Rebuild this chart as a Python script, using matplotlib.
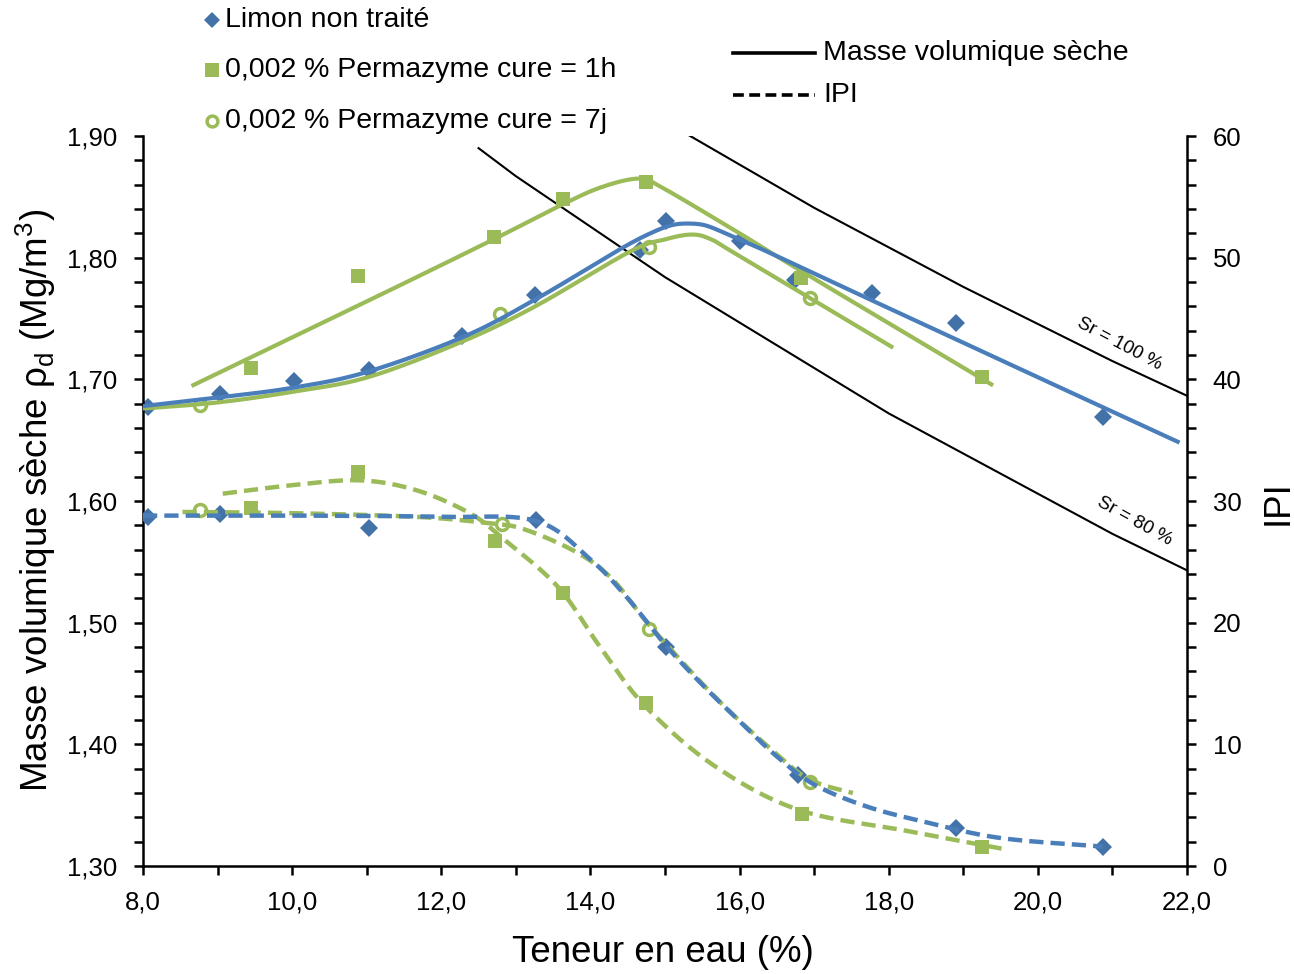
import numpy as np
import matplotlib
matplotlib.use("Agg")
import matplotlib.pyplot as plt
from matplotlib.lines import Line2D
from matplotlib.ticker import MultipleLocator, FuncFormatter

plt.rcParams["font.family"] = ["Liberation Sans", "DejaVu Sans"]

BLUE = "#4A7EBB"
BLUE_MK = "#4372A9"
GREEN = "#9BBB59"

# --- measured points: dry density (Mg/m3) ---
limon_w   = [8.07, 9.03, 10.03, 11.03, 12.28, 13.26, 14.67, 15.01, 16.0, 16.74, 17.78, 18.9, 20.87]
limon_rho = [1.677, 1.688, 1.699, 1.708, 1.736, 1.769, 1.806, 1.830, 1.814, 1.782, 1.771, 1.746, 1.669]
h1_w   = [9.45, 10.88, 12.71, 13.63, 14.74, 16.83, 19.25]
h1_rho = [1.709, 1.785, 1.817, 1.848, 1.862, 1.783, 1.702]
j7_w   = [8.77, 12.79, 14.78, 16.94]
j7_rho = [1.679, 1.754, 1.809, 1.767]

# --- measured points: IPI ---
limon_ipi_w = [8.07, 9.03, 11.03, 13.27, 15.01, 16.79, 18.9, 20.88]
limon_ipi   = [28.7, 28.9, 27.8, 28.4, 18.0, 7.5, 3.1, 1.6]
h1_ipi_w = [9.45, 10.88, 12.72, 13.63, 14.74, 16.84, 19.25]
h1_ipi   = [29.4, 32.4, 26.7, 22.4, 13.4, 4.3, 1.6]
j7_ipi_w = [8.77, 12.81, 14.79, 16.94]
j7_ipi   = [29.3, 28.1, 19.5, 6.9]

# --- fitted curves (knots) ---
fit_limon_w   = [8.0, 9.0, 10.0, 11.0, 12.3, 13.3, 14.7, 15.35, 16.0, 17.7, 19.0, 21.9]
fit_limon_rho = [1.678, 1.685, 1.693, 1.706, 1.735, 1.767, 1.817, 1.828, 1.815, 1.767, 1.730, 1.648]
fit_h1_w   = [8.65, 11.0, 12.7, 13.6, 14.15, 14.65, 14.95, 16.0, 16.8, 19.4]
fit_h1_rho = [1.6945, 1.764, 1.815, 1.843, 1.858, 1.865, 1.858, 1.820, 1.790, 1.695]
fit_j7_w   = [8.0, 9.0, 10.03, 11.03, 12.28, 13.26, 14.53, 15.0, 15.36, 15.62, 15.98, 18.06]
fit_j7_rho = [1.676, 1.681, 1.690, 1.702, 1.731, 1.760, 1.805, 1.815, 1.819, 1.815, 1.802, 1.726]

fit_limon_ipi_w = [8.0, 10.0, 12.0, 13.27, 14.0, 14.5, 15.0, 15.5, 16.0, 16.5, 17.0, 17.7, 18.5, 19.5, 20.87]
fit_limon_ipi   = [28.8, 28.8, 28.7, 28.36, 25.2, 22.0, 18.2, 14.9, 11.9, 9.0, 6.7, 4.9, 3.6, 2.3, 1.6]
fit_h1_ipi_w = [9.07, 10.0, 10.9, 11.66, 12.38, 12.85, 13.57, 14.13, 14.74, 15.67, 16.8, 18.23, 19.54]
fit_h1_ipi   = [30.6, 31.3, 31.7, 30.9, 29.0, 26.8, 22.9, 18.0, 13.1, 8.2, 4.6, 2.9, 1.4]
fit_j7_ipi_w = [8.53, 10.0, 11.66, 12.6, 13.1, 13.81, 14.29, 14.79, 15.67, 16.44, 16.94, 17.52]
fit_j7_ipi   = [29.1, 29.0, 28.7, 28.2, 27.7, 25.8, 23.6, 19.8, 13.9, 9.5, 7.1, 6.0]

# --- saturation lines ---
sr100_w   = [15, 17, 19, 21, 23]
sr100_rho = [1.912, 1.841, 1.776, 1.715, 1.658]
sr80_w   = [12.5, 13, 15, 18, 21, 22]
sr80_rho = [1.890, 1.867, 1.784, 1.672, 1.573, 1.543]


def smooth(xs, ys, sx, sy, n=30):
    """Excel-like smoothed line (Bezier through the knots, in screen units)."""
    P = np.column_stack([np.asarray(xs) * sx, np.asarray(ys) * sy])
    E = np.vstack([P[0], P, P[-1]])
    t = np.linspace(0, 1, n)[:, None]
    segs = []
    for i in range(len(P) - 1):
        p0, p1, p2, p3 = E[i], E[i + 1], E[i + 2], E[i + 3]
        c1 = p1 + (p2 - p0) / 6
        c2 = p2 - (p3 - p1) / 6
        seg = (1 - t) ** 3 * p1 + 3 * (1 - t) ** 2 * t * c1 + 3 * (1 - t) * t ** 2 * c2 + t ** 3 * p2
        segs.append(seg if i == 0 else seg[1:])
    Q = np.vstack(segs)
    return Q[:, 0] / sx, Q[:, 1] / sy


SX = 1044 / 14.0
SY_RHO = 730 / 0.6
SY_IPI = 730 / 60.0

DIAMOND = dict(marker="D", linestyle="none", color=BLUE_MK, ms=9.5, mew=0)
SQUARE = dict(marker="s", linestyle="none", color=GREEN, ms=9.8, mew=0)
CIRCLE = dict(marker="o", linestyle="none", mfc="none", mec=GREEN, ms=8.6, mew=2.5)

fig = plt.figure(figsize=(12.94, 9.74), dpi=100)
ax = fig.add_axes([143 / 1294, 1 - 866 / 974, 1044 / 1294, 730 / 974])
ax2 = ax.twinx()

# saturation curves
ax.plot(sr100_w, sr100_rho, color="black", lw=1.5, zorder=1.5)
ax.plot(sr80_w, sr80_rho, color="black", lw=1.5, zorder=1.5)

# dry density
ax.plot(limon_w, limon_rho, zorder=2, **DIAMOND)
ax.plot(h1_w, h1_rho, zorder=2, **SQUARE)
ax.plot(j7_w, j7_rho, zorder=2, **CIRCLE)
for w, r, c in [(fit_h1_w, fit_h1_rho, GREEN), (fit_j7_w, fit_j7_rho, GREEN),
                (fit_limon_w, fit_limon_rho, BLUE)]:
    xs, ys = smooth(w, r, SX, SY_RHO)
    ax.plot(xs, ys, color=c, lw=3, solid_capstyle="butt", zorder=3)

# IPI
ax2.plot(limon_ipi_w, limon_ipi, zorder=2, **DIAMOND)
ax2.plot(h1_ipi_w, h1_ipi, zorder=2, **SQUARE)
ax2.plot(j7_ipi_w, j7_ipi, zorder=2, **CIRCLE)
for w, v, c in [(fit_h1_ipi_w, fit_h1_ipi, GREEN), (fit_j7_ipi_w, fit_j7_ipi, GREEN),
                (fit_limon_ipi_w, fit_limon_ipi, BLUE)]:
    xs, ys = smooth(w, v, SX, SY_IPI)
    ax2.plot(xs, ys, color=c, lw=3.2, dashes=(3.2, 1.6), dash_capstyle="butt", zorder=3)

# axes
ax.set_xlim(8, 22)
ax.set_ylim(1.30, 1.90)
ax2.set_ylim(0, 60)
ax.xaxis.set_major_locator(MultipleLocator(2))
ax.xaxis.set_minor_locator(MultipleLocator(1))
ax.yaxis.set_major_locator(MultipleLocator(0.1))
ax.yaxis.set_minor_locator(MultipleLocator(0.02))
ax2.yaxis.set_major_locator(MultipleLocator(10))
ax2.yaxis.set_minor_locator(MultipleLocator(2))
ax.xaxis.set_major_formatter(FuncFormatter(lambda v, p: f"{v:.1f}".replace(".", ",")))
ax.yaxis.set_major_formatter(FuncFormatter(lambda v, p: f"{v:.2f}".replace(".", ",")))
ax2.yaxis.set_major_formatter(FuncFormatter(lambda v, p: f"{v:.0f}"))

for a in (ax, ax2):
    a.spines["top"].set_visible(False)
    for s in a.spines.values():
        s.set_linewidth(1.8)
ax.spines["right"].set_visible(False)
ax2.spines["left"].set_visible(False)
ax2.spines["bottom"].set_visible(False)

ax.tick_params(axis="both", which="both", direction="out", length=6.5, width=1.8)
ax.tick_params(axis="y", labelsize=18.5, pad=12)
ax.tick_params(axis="x", labelsize=18.5, pad=11)
ax2.tick_params(axis="y", which="both", direction="out", length=6.5, width=1.8,
                labelsize=18.5, pad=12)

# Sr labels
ax.text(21.09, 1.729, "Sr = 100 %", fontsize=13.5, rotation=-28, ha="center", va="center")
ax.text(21.30, 1.583, "Sr = 80 %", fontsize=13.5, rotation=-29, ha="center", va="center")

# axis titles
fig.text(663 / 1294, 1 - 952 / 974, "Teneur en eau (%)", fontsize=26.5, ha="center", va="center")
fig.text(36 / 1294, 1 - 500 / 974,
         "Masse volumique sèche ρ$_\\mathregular{d}$ (Mg/m$^\\mathregular{3}$)",
         fontsize=26.5, rotation=90, ha="center", va="center")
fig.text(1278 / 1294, 1 - 503 / 974, "IPI", fontsize=26.5, rotation=90, ha="center", va="center")


# legend (manual)
def fx(px):
    return px / 1294


def fy(py):
    return 1 - py / 974


leg_items = [
    (dict(DIAMOND, ms=8), "Limon non traité", 20),
    (dict(SQUARE, ms=9.5), "0,002 % Permazyme cure = 1h", 70),
    (dict(CIRCLE, ms=7.8), "0,002 % Permazyme cure = 7j", 121),
]
for kw, label, py in leg_items:
    fig.add_artist(Line2D([fx(212)], [fy(py)], transform=fig.transFigure, **kw))
    fig.text(fx(225), fy(py), label, fontsize=20.5, ha="left", va="center")

fig.add_artist(Line2D([fx(733), fx(815)], [fy(53), fy(53)], color="black", lw=2.6,
                      transform=fig.transFigure))
fig.add_artist(Line2D([fx(733), fx(815)], [fy(95), fy(95)], color="black", lw=2.6,
                      dashes=(3, 1.5), transform=fig.transFigure))
fig.text(fx(823), fy(53), "Masse volumique sèche", fontsize=20.5, ha="left", va="center")
fig.text(fx(823), fy(95), "IPI", fontsize=20.5, ha="left", va="center")

fig.savefig("out.png", dpi=100)
